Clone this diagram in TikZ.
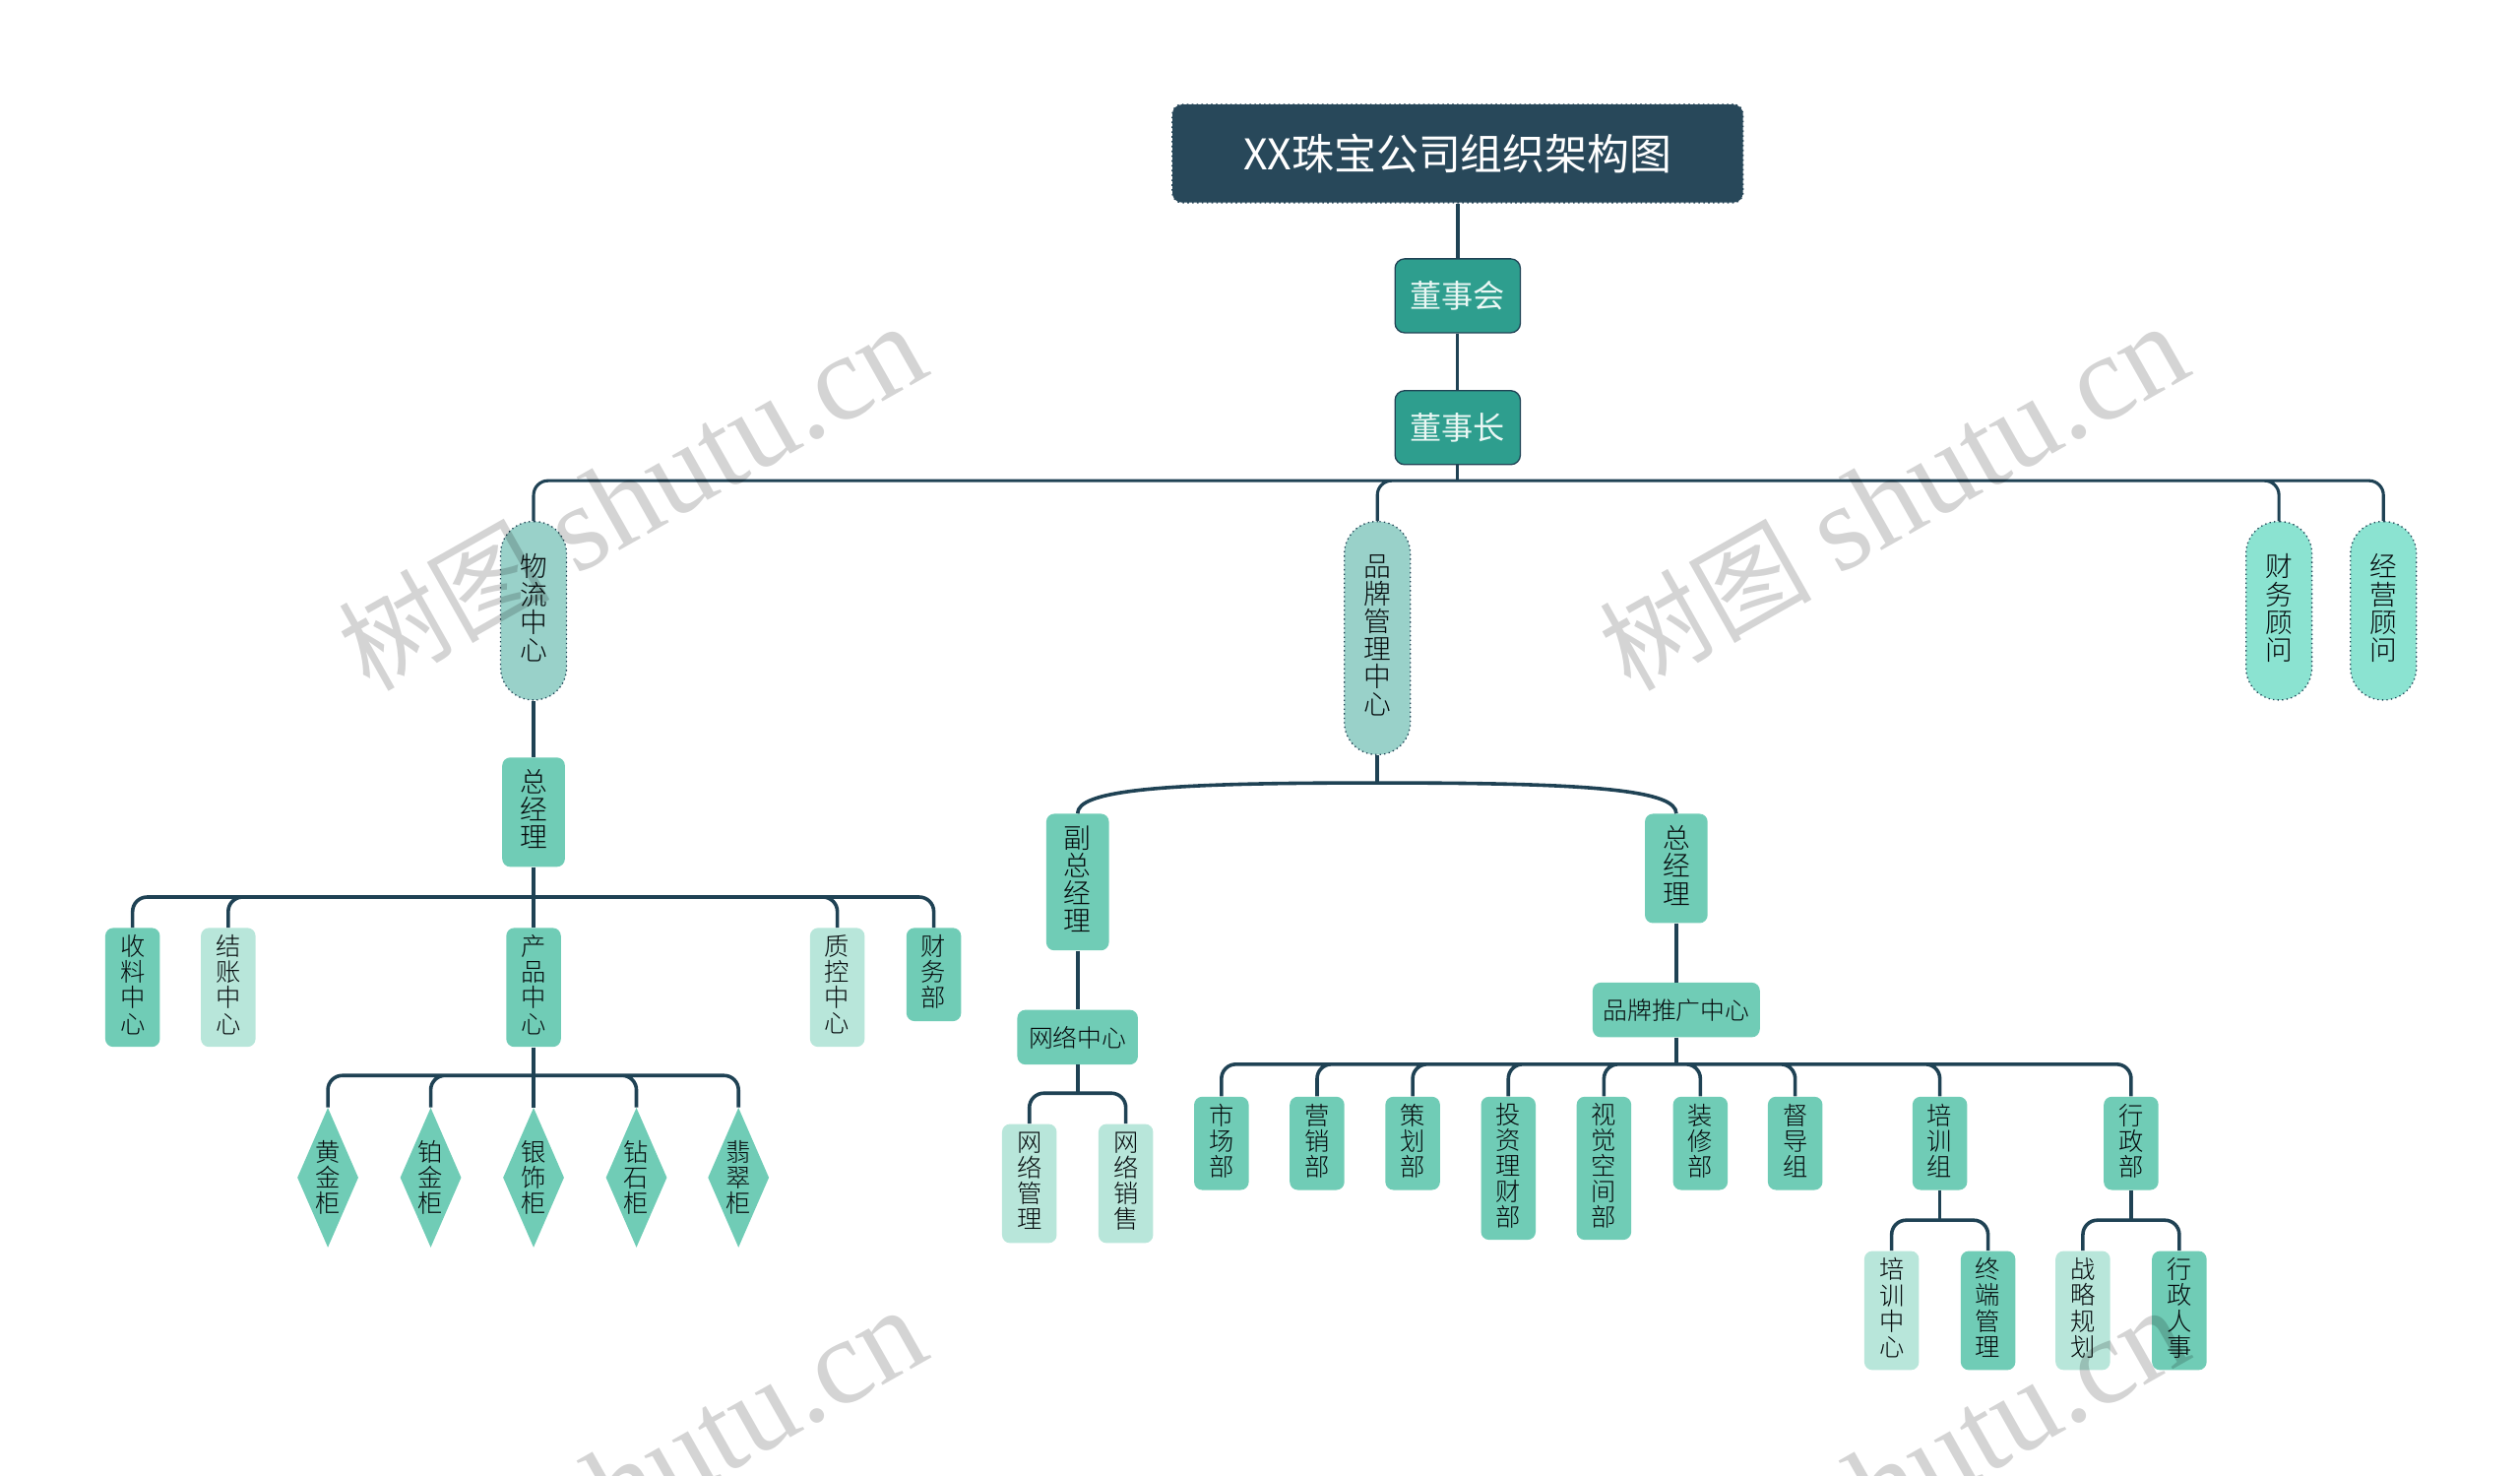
\documentclass[tikz,border=0pt]{standalone}
\usepackage{fontspec}
\setmainfont{Noto Sans CJK SC Light}
\newfontfamily\markfont{Liberation Serif}
\newfontfamily\headfont{Noto Sans CJK SC}
\usetikzlibrary{shapes.geometric}
\definecolor{ink}{HTML}{1F4254}
\definecolor{titlefill}{HTML}{28485A}
\definecolor{bosscol}{HTML}{2E9E8E}
\definecolor{pillcol}{HTML}{99D1C9}
\definecolor{mintcol}{HTML}{8BE3D1}
\definecolor{leafcol}{HTML}{70CCB6}
\definecolor{palecol}{HTML}{B8E6DA}
\newcommand\marktext{{\headfont\fontsize{66}{66}\selectfont 树图}\hspace{16pt}shutu.cn}
\tikzset{
conn/.style={draw=ink,line width=1.9pt,rounded corners=9pt},
branch/.style={conn,line width=2.2pt},
card/.style={fill=leafcol,text=black!85!ink,rounded corners=5pt,inner sep=0pt,anchor=north,align=center,minimum width=34pt,font=\fontsize{15.5}{16}\selectfont},
leaf/.style={card,execute at end node=\rule[-4.3pt]{0pt}{0pt}},
pale/.style={leaf,fill=palecol},
wide/.style={leaf,minimum width=39pt,font=\fontsize{17}{17.2}\selectfont},
flat/.style={card,minimum height=34pt,font=\fontsize{15.2}{16}\selectfont},
boss/.style={fill=bosscol,draw=ink,line width=.8pt,text=white!85!leafcol,rounded corners=6pt,minimum width=78pt,minimum height=46pt,inner sep=0pt,font=\headfont\fontsize{19.7}{20}\selectfont},
pill/.style={fill=pillcol,draw=ink,dotted,line width=.8pt,text=black!85!ink,rounded corners=20pt,inner sep=0pt,anchor=north,align=center,minimum width=41pt,font=\fontsize{17}{17.2}\selectfont,execute at end node=\rule[-4.6pt]{0pt}{0pt}},
gem/.style={diamond,fill=leafcol,text=black!85!ink,inner sep=0pt,aspect=.437,minimum width=38pt,minimum height=87pt,align=center,font=\fontsize{15.5}{16}\selectfont},
wmark/.style={rotate=29.5,text=black,text opacity=.17,font=\markfont\fontsize{76}{76}\selectfont}
}
\begin{document}
\begin{tikzpicture}[x=1pt,y=-1pt,line join=round]
\useasboundingbox (0,0) rectangle (1568,918);
\clip (0,0) rectangle (1568,918);
\coordinate (topbus) at (907,299);
\coordinate (logbus) at (332,558);
\coordinate (prodbus) at (332,669);
\coordinate (brandbus) at (857,487);
\coordinate (netbus) at (670.5,680);
\coordinate (pushbus) at (1043,662);
\coordinate (trainbus) at (1207,759);
\coordinate (adminbus) at (1326,759);

\node[fill=titlefill,draw=titlefill,dotted,line width=1pt,text=white,rounded corners=6pt,minimum width=355pt,minimum height=61pt,inner sep=0pt,font=\headfont\fontsize{26.3}{27}\selectfont] (title) at (907,95.5) {XX珠宝公司组织架构图};
\node[boss] (board) at (907,184) {董事会};
\node[boss] (chair) at (907,266) {董事长};
\node[pill,minimum height=111pt] (logistics) at (332,324) {物\\流\\中\\心};
\node[pill,minimum height=145pt] (brand) at (857,324) {品\\牌\\管\\理\\中\\心};
\node[pill,fill=mintcol,minimum height=111pt] (finadv) at (1418,324) {财\\务\\顾\\问};
\node[pill,fill=mintcol,minimum height=111pt] (bizadv) at (1483,324) {经\\营\\顾\\问};

\node[wide,minimum height=68pt] (gmleft) at (332,471) {总\\经\\理};
\node[leaf,minimum height=74pt] (receive) at (82.5,577) {收\\料\\中\\心};
\node[pale,minimum height=74pt] (settle) at (142,577) {结\\账\\中\\心};
\node[leaf,minimum height=74pt] (product) at (332,577) {产\\品\\中\\心};
\node[pale,minimum height=74pt] (quality) at (521,577) {质\\控\\中\\心};
\node[leaf,minimum height=58pt] (finance) at (581,577) {财\\务\\部};

\node[gem] (gold) at (204,732.5) {黄\\金\\柜};
\node[gem] (plat) at (268,732.5) {铂\\金\\柜};
\node[gem] (silver) at (332,732.5) {银\\饰\\柜};
\node[gem] (drill) at (396,732.5) {钻\\石\\柜};
\node[gem] (jade) at (459.5,732.5) {翡\\翠\\柜};

\node[wide,minimum height=85pt] (vice) at (670.5,506) {副\\总\\经\\理};
\node[wide,minimum height=68pt] (gmright) at (1043,506) {总\\经\\理};
\node[flat,minimum width=75pt] (net) at (670.5,628) {网络中心};
\node[flat,minimum width=104pt] (push) at (1043,611) {品牌推广中心};
\node[pale,minimum height=74pt] (netman) at (640.5,699) {网\\络\\管\\理};
\node[pale,minimum height=74pt] (netsale) at (700.5,699) {网\\络\\销\\售};

\node[leaf,minimum height=58pt] (market) at (760,682) {市\\场\\部};
\node[leaf,minimum height=58pt] (sales) at (819.5,682) {营\\销\\部};
\node[leaf,minimum height=58pt] (plan) at (879,682) {策\\划\\部};
\node[leaf,minimum height=89pt] (invest) at (938.5,682) {投\\资\\理\\财\\部};
\node[leaf,minimum height=89pt] (visual) at (998,682) {视\\觉\\空\\间\\部};
\node[leaf,minimum height=58pt] (decor) at (1058,682) {装\\修\\部};
\node[leaf,minimum height=58pt] (super) at (1117,682) {督\\导\\组};
\node[leaf,minimum height=58pt] (train) at (1207,682) {培\\训\\组};
\node[leaf,minimum height=58pt] (admin) at (1326,682) {行\\政\\部};
\node[pale,minimum height=74pt] (traincen) at (1177,778) {培\\训\\中\\心};
\node[leaf,minimum height=74pt] (terminal) at (1237,778) {终\\端\\管\\理};
\node[pale,minimum height=74pt] (strategy) at (1296,778) {战\\略\\规\\划};
\node[leaf,minimum height=74pt] (staff) at (1356,778) {行\\政\\人\\事};

\draw[conn,line width=2.7pt] (title) -- (board);
\draw[conn] (board) -- (chair);
\draw[conn] (chair) -- (topbus);
\draw[conn] (topbus) -| (logistics.north) (topbus) -| (brand.north) (topbus) -| (finadv.north) (topbus) -| (bizadv.north);
\draw[branch] (logistics) -- (gmleft);
\draw[branch] (gmleft) -- (product);
\draw[branch] (logbus) -| (receive.north) (logbus) -| (settle.north) (logbus) -| (quality.north) (logbus) -| (finance.north);
\draw[branch] (product) -- (silver.north);
\draw[branch] (prodbus) -| (gold.north) (prodbus) -| (plat.north) (prodbus) -| (drill.north) (prodbus) -| (jade.north);
\draw[branch] (brand) -- (brandbus);
\draw[branch] (vice.north) .. controls (670.5,492) and (720,487) .. (brandbus) .. controls (994,487) and (1043,492) .. (gmright.north);
\draw[branch] (vice) -- (net);
\draw[branch] (net) -- (netbus);
\draw[branch] (netbus) -| (netman.north) (netbus) -| (netsale.north);
\draw[branch] (gmright) -- (push);
\draw[branch] (push) -- (pushbus);
\draw[branch] (pushbus) -| (market.north) (pushbus) -| (sales.north) (pushbus) -| (plan.north) (pushbus) -| (invest.north) (pushbus) -| (visual.north) (pushbus) -| (decor.north) (pushbus) -| (super.north) (pushbus) -| (train.north) (pushbus) -| (admin.north);
\draw[branch] (train) -- (trainbus);
\draw[branch] (trainbus) -| (traincen.north) (trainbus) -| (terminal.north);
\draw[branch] (admin) -- (adminbus);
\draw[branch] (adminbus) -| (strategy.north) (adminbus) -| (staff.north);

\node[wmark] (markone) at (393,309.5) {\marktext};
\node[wmark] (marktwo) at (1178,309.5) {\marktext};
\node[wmark] (markthree) at (393,921.5) {\marktext};
\node[wmark] (markfour) at (1178,921.5) {\marktext};
\end{tikzpicture}
\end{document}
